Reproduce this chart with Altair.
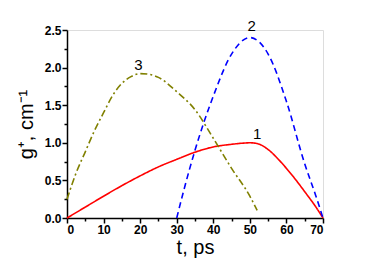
import altair as alt
import pandas as pd

t1 = [0, 5, 10, 15, 20, 25, 30, 35, 40, 45, 48, 50, 52, 55, 58, 60, 63, 65, 68, 70]
g1 = [0, 0.145, 0.29, 0.43, 0.56, 0.68, 0.78, 0.875, 0.945, 0.98, 0.995, 1.0, 0.99, 0.91, 0.77, 0.66, 0.48, 0.35, 0.15, 0]

t2 = [30, 32, 35, 40, 45, 50, 55, 60, 65, 68, 70]
g2 = [0, 0.38, 0.9, 1.62, 2.18, 2.40, 2.18, 1.55, 0.72, 0.3, 0]

t3 = [0, 2.5, 5, 7.5, 10, 12.5, 15, 17.5, 20, 22.5, 25, 30, 35, 40, 45, 50, 52]
g3 = [0.25, 0.6, 0.88, 1.16, 1.40, 1.63, 1.79, 1.88, 1.92, 1.91, 1.87, 1.68, 1.44, 1.06, 0.66, 0.29, 0.1]

lab_t = [52, 50.5, 19.5]
lab_g = [1.12, 2.55, 2.04]
lab_txt = ["1", "2", "3"]

x_major = [0, 10, 20, 30, 40, 50, 60, 70]
x_minor = [5, 15, 25, 35, 45, 55, 65]
y_major = [0, 0.5, 1.0, 1.5, 2.0, 2.5]
y_minor = [0.25, 0.75, 1.25, 1.75, 2.25]

df = pd.concat([
    pd.DataFrame({"t": t1, "g": g1, "s": "1"}),
    pd.DataFrame({"t": t2, "g": g2, "s": "2"}),
    pd.DataFrame({"t": t3, "g": g3, "s": "3"}),
])
labels = pd.DataFrame({"t": lab_t, "g": lab_g, "txt": lab_txt})

xs = alt.Scale(domain=[0, 70], nice=False, zero=False)
ys = alt.Scale(domain=[0, 2.5], nice=False, zero=False)

font = "Liberation Sans"

xaxis = alt.Axis(values=x_major, format="d", title="t, ps", titleFontSize=20, titleFontWeight="normal",
                 titleFont=font, titleColor="black", titlePadding=2,
                 labelFont=font, labelFontWeight="bold", labelFontSize=12, labelColor="black",
                 tickSize=5, tickWidth=1.5, tickColor="black", domainColor="black", domainWidth=1.5,
                 grid=False, orient="bottom", labelPadding=1, labelOverlap=False)

yaxis = alt.Axis(values=y_major, format=".1f", title="g⁺, cm⁻¹", titleFontSize=20, titleFontWeight="normal",
                 titleFont=font, titleColor="black", titlePadding=8,
                 labelFont=font, labelFontWeight="bold", labelFontSize=12, labelColor="black",
                 tickSize=5, tickWidth=1.5, tickColor="black", domainColor="black", domainWidth=1.5,
                 grid=False, orient="left", labelPadding=1, labelOverlap=False)

colors = alt.Scale(domain=["1", "2", "3"], range=["#ff0000", "#0000ff", "#808000"])
dashes = alt.Scale(domain=["1", "2", "3"], range=[[1, 0], [6, 4], [7, 3, 2, 3]])

lines = alt.Chart(df).mark_line(strokeWidth=1.6, interpolate="monotone").encode(
    x=alt.X("t:Q", scale=xs, axis=xaxis),
    y=alt.Y("g:Q", scale=ys, axis=yaxis),
    color=alt.Color("s:N", scale=colors, legend=None),
    strokeDash=alt.StrokeDash("s:N", scale=dashes, legend=None),
    detail="s:N",
)

minor = alt.Chart(pd.DataFrame({"t": [0], "g": [0]})).mark_point(opacity=0).encode(
    x=alt.X("t:Q", scale=xs, axis=alt.Axis(values=x_minor, labels=False, title=None, domain=False,
                                           tickSize=3, tickWidth=1.5, tickColor="black", grid=False,
                                           orient="bottom")),
    y=alt.Y("g:Q", scale=ys, axis=alt.Axis(values=y_minor, labels=False, title=None, domain=False,
                                           tickSize=3, tickWidth=1.5, tickColor="black", grid=False,
                                           orient="left")),
)

text = alt.Chart(labels).mark_text(font=font, fontSize=15, color="black").encode(
    x=alt.X("t:Q", scale=xs, axis=None),
    y=alt.Y("g:Q", scale=ys, axis=None),
    text="txt:N",
)

chart = alt.layer(lines, text, minor).resolve_axis(x="independent", y="independent").properties(
    width=256, height=188,
    autosize=alt.AutoSizeParams(type="none"),
    padding={"left": 59, "top": 22, "right": 40, "bottom": 42},
).configure_view(stroke=None).configure(background="white")

chart.save("out.html", embed_options={"renderer": "svg", "actions": False})
